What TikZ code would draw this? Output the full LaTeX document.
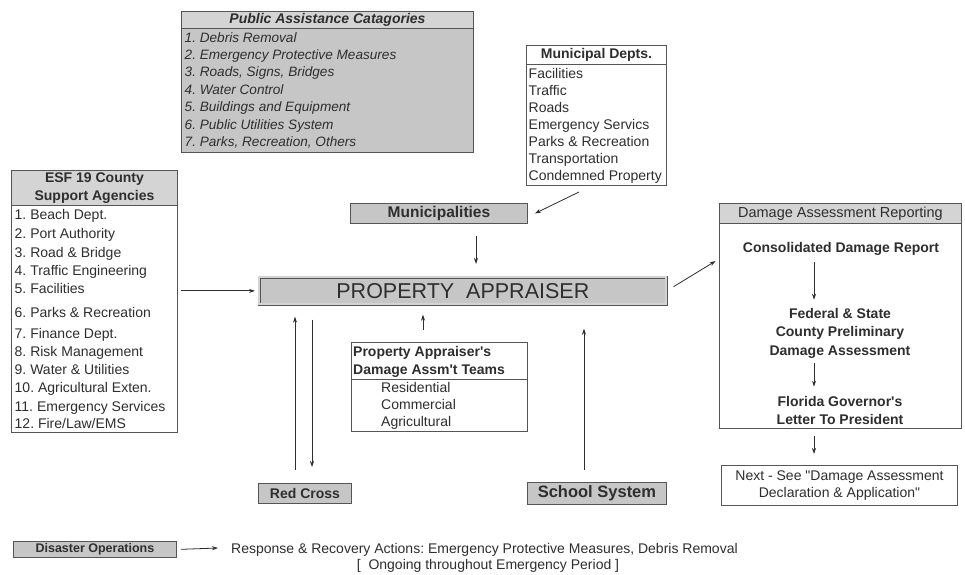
\documentclass[tikz,border=0pt]{standalone}
\usepackage{fontspec}
\setmainfont{Liberation Sans}[Ligatures=TeXOff]
\usetikzlibrary{arrows.meta}
\definecolor{ink}{HTML}{2E2E2E}
\definecolor{frame}{HTML}{555555}
\definecolor{fillA}{HTML}{C6C6C6}
\definecolor{fillB}{HTML}{D4D4D4}
\frenchspacing
\begin{document}
\begin{tikzpicture}[x=1pt,y=-1pt,
  box/.style={draw=frame, line width=0.9pt, inner sep=0pt, anchor=north west},
  txt/.style={inner sep=0pt, anchor=base west, text=ink, font=\fontsize{14}{16}\selectfont},
  ctxt/.style={inner sep=0pt, anchor=center, text=ink, font=\fontsize{14}{16}\selectfont},
  btxt/.style={ctxt, font=\fontsize{14}{16}\selectfont\bfseries},
  arr/.style={draw=ink, line width=0.8pt, -{Stealth[length=6pt,width=4pt]}}]
\useasboundingbox[fill=white] (0,0) rectangle (965,574);

% Public Assistance Categories
\node[box, fill=fillA, minimum width=292pt, minimum height=141pt] (pac) at (181,11) {};
\node[box, fill=fillB, minimum width=292pt, minimum height=17pt] (pach) at (181,11) {};
\node[ctxt, font=\fontsize{14}{16}\selectfont\bfseries\itshape] (pact) at (pach.center) {Public Assistance Catagories};
\foreach \t [count=\i] in {{1. Debris Removal}, {2. Emergency Protective Measures}, {3. Roads, Signs, Bridges}, {4. Water Control}, {5. Buildings and Equipment}, {6. Public Utilities System}, {7. Parks, Recreation, Others}}
  \node[txt, font=\fontsize{13.6}{16}\selectfont\itshape] (pa\i) at (184.5,{42+(\i-1)*17.4}) {\t};

% Municipal Depts
\node[box, minimum width=140pt, minimum height=140pt] (md) at (526,45) {};
\node[box, minimum width=140pt, minimum height=19pt] (mdh) at (526,45) {};
\node[btxt] (mdt) at (mdh.center) {Municipal Depts.};
\foreach \t [count=\i] in {Facilities, Traffic, Roads, Emergency Servics, Parks \& Recreation, Transportation, Condemned Property}
  \node[txt] (md\i) at (528.5,{78+(\i-1)*17.1}) {\t};

% ESF 19
\node[box, minimum width=166pt, minimum height=262pt] (esf) at (11,170) {};
\node[box, fill=fillB, minimum width=166pt, minimum height=35pt] (esfh) at (11,170) {};
\node[btxt, align=center, font=\fontsize{14}{18.5}\selectfont\bfseries] (esft) at (esfh.center) {ESF 19 County\\Support Agencies};
\foreach \y/\t [count=\i] in {214/{1. Beach Dept.}, 233/{2. Port Authority}, 252/{3. Road \& Bridge}, 270/{4. Traffic Engineering}, 288/{5. Facilities}, 312/{6. Parks \& Recreation}, 333/{7. Finance Dept.}, 351/{8. Risk Management}, 369/{9. Water \& Utilities}, 387/{10. Agricultural Exten.}, 406/{11. Emergency Services}, 423/{12. Fire{/}Law{/}EMS}}
  \node[txt, font=\fontsize{14}{16}\selectfont] (esf\i) at (14.5,\y+5) {\t};

% Municipalities
\node[box, fill=fillA, minimum width=177pt, minimum height=20pt] (mun) at (350,203) {};
\node[btxt, font=\fontsize{15.5}{18}\selectfont\bfseries] (munt) at (mun.center) {Municipalities};

% Property Appraiser
\node[box, fill=fillA, draw=frame, double=fillB, double distance=2pt, line width=0.7pt, minimum width=407pt, minimum height=27pt] (pa) at (259,277) {};
\node[ctxt, font=\fontsize{21.5}{24}\selectfont] (pat) at (pa.center) {PROPERTY\ \ APPRAISER};

% PA teams
\node[box, minimum width=176pt, minimum height=89pt] (team) at (351,342) {};
\node[box, minimum width=176pt, minimum height=37pt] (teamh) at (351,342) {};
\node[txt, font=\fontsize{14}{17.5}\selectfont\bfseries] (teamt1) at (353,356) {Property Appraiser's};
\node[txt, font=\fontsize{14}{17.5}\selectfont\bfseries] (teamt2) at (353,374) {Damage Assm't Teams};
\foreach \t [count=\i] in {Residential, Commercial, Agricultural}
  \node[txt] (team\i) at (381,{392+(\i-1)*17}) {\t};

% Red Cross, School System
\node[box, fill=fillA, minimum width=93pt, minimum height=20pt] (rc) at (258,483) {};
\node[btxt] (rct) at (rc.center) {Red Cross};
\node[box, fill=fillA, minimum width=139pt, minimum height=22pt] (ss) at (527,482) {};
\node[btxt, font=\fontsize{16.5}{18}\selectfont\bfseries] (sst) at (ss.center) {School System};

% Damage Assessment Reporting
\node[box, minimum width=242pt, minimum height=225pt] (dar) at (719,203) {};
\node[box, fill=fillB, minimum width=242pt, minimum height=20pt] (darh) at (719,203) {};
\node[ctxt, font=\fontsize{14.5}{16}\selectfont] (dart) at (darh.center) {Damage Assessment Reporting};
\node[btxt] (cdr) at (841,249) {Consolidated Damage Report};
\node[btxt, align=center, font=\fontsize{14}{18.5}\selectfont\bfseries] (fed) at (840,333) {Federal \& State\\County Preliminary\\Damage Assessment};
\node[btxt, align=center, font=\fontsize{14}{18}\selectfont\bfseries] (gov) at (840,410) {Florida Governor's\\Letter To President};

% Next box
\node[box, minimum width=236pt, minimum height=40pt] (nx) at (721,465) {};
\node[ctxt, align=center, font=\fontsize{14}{17.5}\selectfont] (nxt) at (nx.center) {Next - See "Damage Assessment\\Declaration \& Application"};

% Disaster Operations
\node[box, fill=fillA, minimum width=163pt, minimum height=16pt] (dop) at (13,541) {};
\node[btxt, font=\fontsize{12.5}{14}\selectfont\bfseries] (dopt) at (dop.center) {Disaster Operations};
\node[txt] (resp) at (231,553) {Response \& Recovery Actions: Emergency Protective Measures, Debris Removal};
\node[ctxt] (ongo) at (488,566) {[\ \ Ongoing throughout Emergency Period ]};

% coordinates for vertical arrow positions
\coordinate (xrcu) at (295,0);
\coordinate (xrcd) at (312,0);
\coordinate (xss) at (584,0);
\coordinate (xteam) at (423,0);
\coordinate (xmun) at (476,0);
\coordinate (xdar) at (814,0);
\coordinate (mdA) at (579,192);
\coordinate (dopE) at (218,548);

% connectors
\draw[arr] (mdA) -- ([xshift=7pt]mun.east);
\draw[arr, shorten <=12pt, shorten >=13pt] (mun.south -| xmun) -- (pa.north -| xmun);
\draw[arr, shorten <=3pt, shorten >=4pt] (esf.east |- pa.west) -- (pa.west);
\draw[arr, shorten <=8pt, shorten >=4pt] (pa.east) -- ([yshift=57pt]dar.west);
\draw[arr, shorten <=12pt, shorten >=10pt] (team.north -| xteam) -- (pa.south -| xteam);
\draw[arr, shorten <=13pt, shorten >=12pt] (rc.north -| xrcu) -- (pa.south -| xrcu);
\draw[arr, shorten <=15pt, shorten >=16pt] (pa.south -| xrcd) -- (rc.north -| xrcd);
\draw[arr, shorten <=12pt, shorten >=24pt] (ss.north -| xss) -- (pa.south -| xss);
\draw[arr, shorten <=6pt, shorten >=8pt] (cdr.south -| xdar) -- (fed.north -| xdar);
\draw[arr, shorten <=5pt, shorten >=9pt] (fed.south -| xdar) -- (gov.north -| xdar);
\draw[arr, shorten <=7pt, shorten >=11pt] (dar.south -| xdar) -- (nx.north -| xdar);
\draw[arr, shorten <=4pt] (dop.east) -- (dopE);
\end{tikzpicture}
\end{document}
